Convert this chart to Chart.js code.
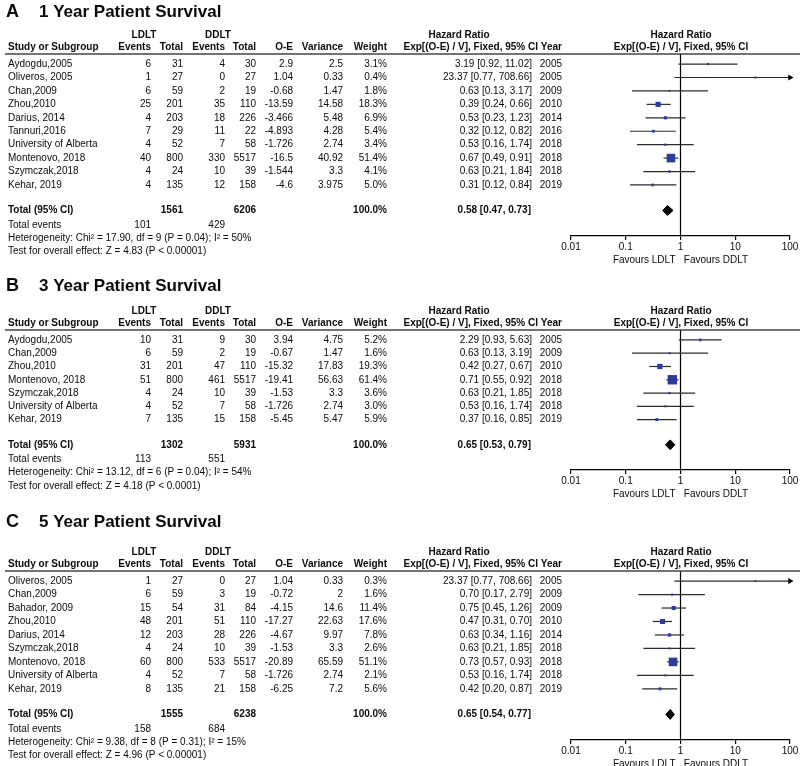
<!DOCTYPE html>
<html>
<head>
<meta charset="utf-8">
<title>Patient Survival forest plots</title>
<script src="https://cdn.jsdelivr.net/npm/chart.js@4.4.1/dist/chart.umd.min.js"></script>
<style>
    html, body { margin: 0; padding: 0; background: #fff; overflow: hidden; }
    .panel { position: absolute; left: 0; }
</style>
</head>
<body>
<div class="panel" id="panelA"><canvas id="chartA"></canvas></div>
<div class="panel" id="panelB"><canvas id="chartB"></canvas></div>
<div class="panel" id="panelC"><canvas id="chartC"></canvas></div>
<script>
// ---- axis ----
const tickValues = [0.01, 0.1, 1, 10, 100];
const tickLabels = ['0.01', '0.1', '1', '10', '100'];

// ---- A: 1 year ----
const studiesA = ['Aydogdu,2005', 'Oliveros, 2005', 'Chan,2009', 'Zhou,2010', 'Darius, 2014', 'Tannuri,2016',
    'University of Alberta', 'Montenovo, 2018', 'Szymczak,2018', 'Kehar, 2019'];
const ldltEventsA = [6, 1, 6, 25, 4, 7, 4, 40, 4, 4];
const ldltTotalA = [31, 27, 59, 201, 203, 29, 52, 800, 24, 135];
const ddltEventsA = [4, 0, 2, 35, 18, 11, 7, 330, 10, 12];
const ddltTotalA = [30, 27, 19, 110, 226, 22, 58, 5517, 39, 158];
const oeA = [2.9, 1.04, -0.68, -13.59, -3.466, -4.893, -1.726, -16.5, -1.544, -4.6];
const varianceA = [2.5, 0.33, 1.47, 14.58, 5.48, 4.28, 2.74, 40.92, 3.3, 3.975];
const weightA = [3.1, 0.4, 1.8, 18.3, 6.9, 5.4, 3.4, 51.4, 4.1, 5.0];
const hrA = [3.19, 23.37, 0.63, 0.39, 0.53, 0.32, 0.53, 0.67, 0.63, 0.31];
const loA = [0.92, 0.77, 0.13, 0.24, 0.23, 0.12, 0.16, 0.49, 0.21, 0.12];
const hiA = [11.02, 708.66, 3.17, 0.66, 1.23, 0.82, 1.74, 0.91, 1.84, 0.84];
const yearA = [2005, 2005, 2009, 2010, 2014, 2016, 2018, 2018, 2018, 2019];
const totalsA = [1561, 6206];
const totalEventsA = [101, 429];
const pooledA = [0.58, 0.47, 0.73];
const statsA = ['Heterogeneity: Chi² = 17.90, df = 9 (P = 0.04); I² = 50%',
    'Test for overall effect: Z = 4.83 (P < 0.00001)'];

// ---- B: 3 year ----
const studiesB = ['Aydogdu,2005', 'Chan,2009', 'Zhou,2010', 'Montenovo, 2018', 'Szymczak,2018',
    'University of Alberta', 'Kehar, 2019'];
const ldltEventsB = [10, 6, 31, 51, 4, 4, 7];
const ldltTotalB = [31, 59, 201, 800, 24, 52, 135];
const ddltEventsB = [9, 2, 47, 461, 10, 7, 15];
const ddltTotalB = [30, 19, 110, 5517, 39, 58, 158];
const oeB = [3.94, -0.67, -15.32, -19.41, -1.53, -1.726, -5.45];
const varianceB = [4.75, 1.47, 17.83, 56.63, 3.3, 2.74, 5.47];
const weightB = [5.2, 1.6, 19.3, 61.4, 3.6, 3.0, 5.9];
const hrB = [2.29, 0.63, 0.42, 0.71, 0.63, 0.53, 0.37];
const loB = [0.93, 0.13, 0.27, 0.55, 0.21, 0.16, 0.16];
const hiB = [5.63, 3.19, 0.67, 0.92, 1.85, 1.74, 0.85];
const yearB = [2005, 2009, 2010, 2018, 2018, 2018, 2019];
const totalsB = [1302, 5931];
const totalEventsB = [113, 551];
const pooledB = [0.65, 0.53, 0.79];
const statsB = ['Heterogeneity: Chi² = 13.12, df = 6 (P = 0.04); I² = 54%',
    'Test for overall effect: Z = 4.18 (P < 0.0001)'];

// ---- C: 5 year ----
const studiesC = ['Oliveros, 2005', 'Chan,2009', 'Bahador, 2009', 'Zhou,2010', 'Darius, 2014', 'Szymczak,2018',
    'Montenovo, 2018', 'University of Alberta', 'Kehar, 2019'];
const ldltEventsC = [1, 6, 15, 48, 12, 4, 60, 4, 8];
const ldltTotalC = [27, 59, 54, 201, 203, 24, 800, 52, 135];
const ddltEventsC = [0, 3, 31, 51, 28, 10, 533, 7, 21];
const ddltTotalC = [27, 19, 84, 110, 226, 39, 5517, 58, 158];
const oeC = [1.04, -0.72, -4.15, -17.27, -4.67, -1.53, -20.89, -1.726, -6.25];
const varianceC = [0.33, 2, 14.6, 22.63, 9.97, 3.3, 65.59, 2.74, 7.2];
const weightC = [0.3, 1.6, 11.4, 17.6, 7.8, 2.6, 51.1, 2.1, 5.6];
const hrC = [23.37, 0.70, 0.75, 0.47, 0.63, 0.63, 0.73, 0.53, 0.42];
const loC = [0.77, 0.17, 0.45, 0.31, 0.34, 0.21, 0.57, 0.16, 0.20];
const hiC = [708.66, 2.79, 1.26, 0.70, 1.16, 1.85, 0.93, 1.74, 0.87];
const yearC = [2005, 2009, 2009, 2010, 2014, 2018, 2018, 2018, 2019];
const totalsC = [1555, 6238];
const totalEventsC = [158, 684];
const pooledC = [0.65, 0.54, 0.77];
const statsC = ['Heterogeneity: Chi² = 9.38, df = 8 (P = 0.31); I² = 15%',
    'Test for overall effect: Z = 4.96 (P < 0.00001)'];

const FONT = '"Liberation Sans", Arial, sans-serif';
const TEXT = '#0a0a0a';
const BOX = '#2d3b9a';
const CI_LINE = '#2a2a2a';

// column right edges of the table part
const COL = { ldltE: 151, ldltT: 183, ddltE: 225, ddltT: 256, oe: 293, vari: 343, weight: 387, hr: 532, year: 562 };

function fmtCI(a, b, c) {
    return a.toFixed(2) + ' [' + b.toFixed(2) + ', ' + c.toFixed(2) + ']';
}

/**
 * Table text drawn next to the plot, rows placed with the chart's y scale
 */
function tablePlugin(p) {
    return {
        id: 'forestTable',
        afterDraw(chart) {
            const ctx = chart.ctx;
            const ys = chart.scales.y;
            const top = chart.chartArea.top;
            ctx.save();
            ctx.fillStyle = TEXT;
            ctx.textBaseline = 'middle';

            const put = (str, x, y, align, bold, size) => {
                ctx.font = (bold ? 'bold ' : '') + (size || 10) + 'px ' + FONT;
                ctx.textAlign = align;
                ctx.fillText(str, x, y);
            };

            // title
            put(p.letter, 6, top + p.titleOffset, 'left', true, 18);
            put(p.title, 39, top + p.titleOffset, 'left', true, 17);

            // headers
            const h1 = top - 19, h2 = top - 6.5;
            put('LDLT', 144, h1, 'center', true);
            put('DDLT', 218, h1, 'center', true);
            put('Hazard Ratio', 459, h1, 'center', true);
            put('Hazard Ratio', 681, h1, 'center', true);
            put('Study or Subgroup', 8, h2, 'left', true);
            put('Events', COL.ldltE, h2, 'right', true);
            put('Total', COL.ldltT, h2, 'right', true);
            put('Events', COL.ddltE, h2, 'right', true);
            put('Total', COL.ddltT, h2, 'right', true);
            put('O-E', COL.oe, h2, 'right', true);
            put('Variance', COL.vari, h2, 'right', true);
            put('Weight', COL.weight, h2, 'right', true);
            put('Exp[(O-E) / V], Fixed, 95% CI', 538, h2, 'right', true);
            put('Year', COL.year, h2, 'right', true);
            put('Exp[(O-E) / V], Fixed, 95% CI', 681, h2, 'center', true);

            ctx.strokeStyle = '#444';
            ctx.lineWidth = 1.3;
            ctx.beginPath();
            ctx.moveTo(5, top);
            ctx.lineTo(800, top);
            ctx.stroke();

            // study rows
            p.studies.forEach((name, i) => {
                const y = ys.getPixelForValue(i);
                put(name, 8, y, 'left');
                put(String(p.ldltEvents[i]), COL.ldltE, y, 'right');
                put(String(p.ldltTotal[i]), COL.ldltT, y, 'right');
                put(String(p.ddltEvents[i]), COL.ddltE, y, 'right');
                put(String(p.ddltTotal[i]), COL.ddltT, y, 'right');
                put(String(p.oe[i]), COL.oe, y, 'right');
                put(String(p.variance[i]), COL.vari, y, 'right');
                put(p.weight[i].toFixed(1) + '%', COL.weight, y, 'right');
                put(fmtCI(p.hr[i], p.lo[i], p.hi[i]), COL.hr, y, 'right');
                put(String(p.year[i]), COL.year, y, 'right');
            });

            // totals
            const yt = ys.getPixelForValue(p.totalRow);
            put('Total (95% CI)', 8, yt, 'left', true);
            put(String(p.totals[0]), COL.ldltT, yt, 'right', true);
            put(String(p.totals[1]), COL.ddltT, yt, 'right', true);
            put('100.0%', COL.weight, yt, 'right', true);
            put(fmtCI(p.pooled[0], p.pooled[1], p.pooled[2]), COL.hr - 1, yt, 'right', true);

            put('Total events', 8, yt + 14.5, 'left');
            put(String(p.totalEvents[0]), COL.ldltE, yt + 14.5, 'right');
            put(String(p.totalEvents[1]), COL.ddltE, yt + 14.5, 'right');
            put(p.stats[0], 8, yt + 27.8, 'left');
            put(p.stats[1], 8, yt + 41, 'left');
            ctx.restore();
        }
    };
}

/**
 * Create one forest plot panel
 */
function createForest(canvasId, panelId, p, layout) {
    const n = p.studies.length;
    const yMin = -0.75;
    const yMax = n - 1 + 3.8;
    p.totalRow = n - 1 + 1.9;

    const height = layout.axisY - layout.top + 30;
    const holder = document.getElementById(panelId);
    holder.style.top = layout.top + 'px';
    const canvas = document.getElementById(canvasId);
    canvas.width = 800;
    canvas.height = height;
    canvas.style.width = '800px';
    canvas.style.height = height + 'px';

    const xMax = tickValues[tickValues.length - 1];
    const datasets = [];

    // squares, size by weight
    datasets.push({
        label: 'HR',
        data: p.hr.map((v, i) => ({ x: v, y: i })),
        pointStyle: 'rect',
        pointRadius: (c) => Math.max(2, 1.2 * Math.sqrt(p.weight[c.dataIndex])) / Math.SQRT2,
        backgroundColor: BOX,
        borderWidth: 0
    });

    // arrow heads for intervals leaving the axis
    const arrows = [];
    p.hi.forEach((v, i) => { if (v > xMax) arrows.push({ x: xMax, y: i }); });
    datasets.push({
        label: 'arrows',
        data: arrows,
        pointStyle: 'triangle',
        rotation: 90,
        pointRadius: 3.5,
        backgroundColor: '#000',
        borderColor: '#000',
        borderWidth: 0,
        clip: false
    });

    // confidence intervals
    p.lo.forEach((lo, i) => {
        datasets.push({
            type: 'line',
            label: 'ci' + i,
            data: [{ x: lo, y: i }, { x: p.hi[i], y: i }],
            borderColor: CI_LINE,
            borderWidth: 1.2,
            pointRadius: 0
        });
    });

    // pooled diamond (upper and lower half, filled between)
    const [est, plo, phi] = p.pooled;
    datasets.push({
        type: 'line',
        label: 'diamondTop',
        data: [{ x: plo, y: p.totalRow }, { x: est, y: p.totalRow - 0.37 }, { x: phi, y: p.totalRow }],
        borderColor: '#000',
        borderWidth: 1,
        pointRadius: 0,
        fill: false
    });
    datasets.push({
        type: 'line',
        label: 'diamondBottom',
        data: [{ x: plo, y: p.totalRow }, { x: est, y: p.totalRow + 0.37 }, { x: phi, y: p.totalRow }],
        borderColor: '#000',
        backgroundColor: '#000',
        borderWidth: 1,
        pointRadius: 0,
        fill: '-1'
    });

    // line of no effect
    datasets.push({
        type: 'line',
        label: 'null',
        data: [{ x: 1, y: yMin }, { x: 1, y: yMax }],
        borderColor: '#000',
        borderWidth: 1.2,
        pointRadius: 0
    });

    const font = { family: FONT, size: 10 };

    return new Chart(canvas.getContext('2d'), {
        type: 'scatter',
        data: { datasets: datasets },
        options: {
            responsive: false,
            animation: false,
            devicePixelRatio: 1,
            layout: { padding: { left: 571, right: 10, top: layout.lineY - layout.top, bottom: 2 } },
            plugins: { legend: { display: false }, tooltip: { enabled: false } },
            scales: {
                x: {
                    type: 'logarithmic',
                    min: tickValues[0],
                    max: xMax,
                    afterBuildTicks: (axis) => { axis.ticks = tickValues.map(v => ({ value: v })); },
                    ticks: {
                        callback: (v, idx) => tickLabels[idx],
                        font: font,
                        color: TEXT,
                        padding: 1,
                        autoSkip: false,
                        maxRotation: 0
                    },
                    grid: { display: true, drawOnChartArea: false, drawTicks: true, tickLength: 4, color: '#000', lineWidth: 1.2 },
                    border: { display: true, color: '#000', width: 1.2 },
                    title: { display: true, text: 'Favours LDLT   Favours DDLT', font: font, color: TEXT, padding: 0 }
                },
                y: {
                    type: 'linear',
                    reverse: true,
                    min: yMin,
                    max: yMax,
                    display: false
                }
            }
        },
        plugins: [tablePlugin(p)]
    });
}

createForest('chartA', 'panelA', {
    letter: 'A', title: '1 Year Patient Survival', titleOffset: -42,
    studies: studiesA, ldltEvents: ldltEventsA, ldltTotal: ldltTotalA, ddltEvents: ddltEventsA, ddltTotal: ddltTotalA,
    oe: oeA, variance: varianceA, weight: weightA, hr: hrA, lo: loA, hi: hiA, year: yearA,
    totals: totalsA, totalEvents: totalEventsA, pooled: pooledA, stats: statsA
}, { top: 0, lineY: 54, axisY: 238 });

createForest('chartB', 'panelB', {
    letter: 'B', title: '3 Year Patient Survival', titleOffset: -44,
    studies: studiesB, ldltEvents: ldltEventsB, ldltTotal: ldltTotalB, ddltEvents: ddltEventsB, ddltTotal: ddltTotalB,
    oe: oeB, variance: varianceB, weight: weightB, hr: hrB, lo: loB, hi: hiB, year: yearB,
    totals: totalsB, totalEvents: totalEventsB, pooled: pooledB, stats: statsB
}, { top: 268, lineY: 330, axisY: 472 });

createForest('chartC', 'panelC', {
    letter: 'C', title: '5 Year Patient Survival', titleOffset: -49,
    studies: studiesC, ldltEvents: ldltEventsC, ldltTotal: ldltTotalC, ddltEvents: ddltEventsC, ddltTotal: ddltTotalC,
    oe: oeC, variance: varianceC, weight: weightC, hr: hrC, lo: loC, hi: hiC, year: yearC,
    totals: totalsC, totalEvents: totalEventsC, pooled: pooledC, stats: statsC
}, { top: 502, lineY: 571, axisY: 742 });
</script>
</body>
</html>
